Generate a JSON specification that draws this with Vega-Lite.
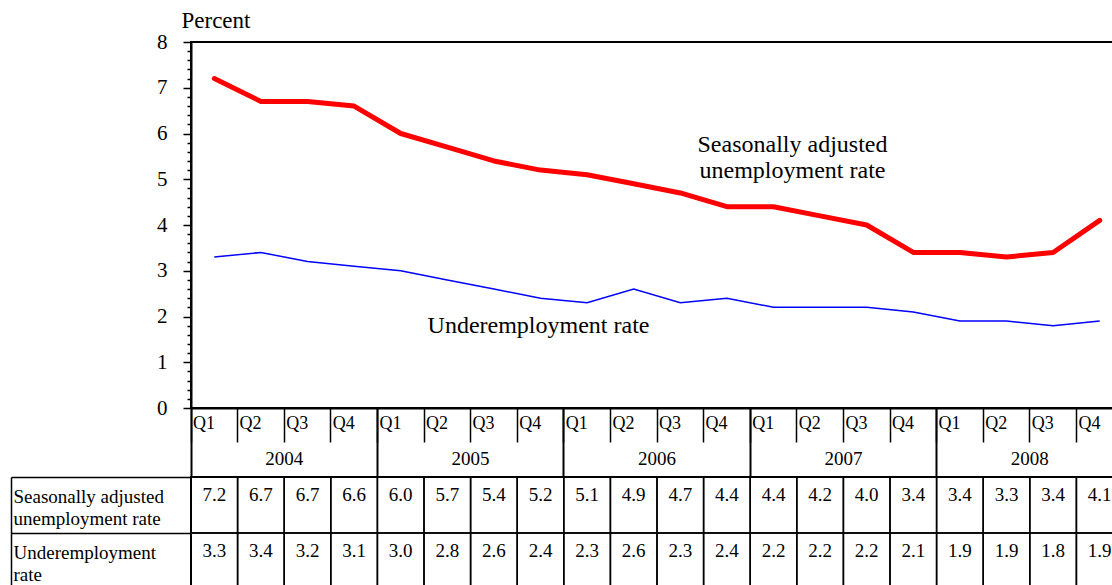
{
  "$schema": "https://vega.github.io/schema/vega-lite/v6.json",
  "background": "white",
  "padding": {"left": 9, "top": 8, "right": 0, "bottom": 0},
  "bounds": "flush",
  "spacing": 69,
  "datasets": {
    "q": [
      {"period": "2004Q1", "year": "2004", "unemp": 7.2, "under": 3.3},
      {"period": "2004Q2", "year": "2004", "unemp": 6.7, "under": 3.4},
      {"period": "2004Q3", "year": "2004", "unemp": 6.7, "under": 3.2},
      {"period": "2004Q4", "year": "2004", "unemp": 6.6, "under": 3.1},
      {"period": "2005Q1", "year": "2005", "unemp": 6.0, "under": 3.0},
      {"period": "2005Q2", "year": "2005", "unemp": 5.7, "under": 2.8},
      {"period": "2005Q3", "year": "2005", "unemp": 5.4, "under": 2.6},
      {"period": "2005Q4", "year": "2005", "unemp": 5.2, "under": 2.4},
      {"period": "2006Q1", "year": "2006", "unemp": 5.1, "under": 2.3},
      {"period": "2006Q2", "year": "2006", "unemp": 4.9, "under": 2.6},
      {"period": "2006Q3", "year": "2006", "unemp": 4.7, "under": 2.3},
      {"period": "2006Q4", "year": "2006", "unemp": 4.4, "under": 2.4},
      {"period": "2007Q1", "year": "2007", "unemp": 4.4, "under": 2.2},
      {"period": "2007Q2", "year": "2007", "unemp": 4.2, "under": 2.2},
      {"period": "2007Q3", "year": "2007", "unemp": 4.0, "under": 2.2},
      {"period": "2007Q4", "year": "2007", "unemp": 3.4, "under": 2.1},
      {"period": "2008Q1", "year": "2008", "unemp": 3.4, "under": 1.9},
      {"period": "2008Q2", "year": "2008", "unemp": 3.3, "under": 1.9},
      {"period": "2008Q3", "year": "2008", "unemp": 3.4, "under": 1.8},
      {"period": "2008Q4", "year": "2008", "unemp": 4.1, "under": 1.9}
    ]
  },
  "vconcat": [
    {
      "width": 932,
      "height": 366,
      "data": {"name": "q"},
      "layer": [
        {
          "layer": [
            {
              "mark": {"type": "line", "color": "#FF0000", "strokeWidth": 5, "strokeJoin": "round", "strokeCap": "round"},
              "encoding": {
                "x": {
                  "field": "period", "type": "nominal",
                  "scale": {"type": "band", "paddingInner": 0, "paddingOuter": 0},
                  "axis": {
                    "title": null, "orient": "bottom", "grid": false,
                    "domain": true, "domainColor": "black", "domainWidth": 2,
                    "ticks": true, "bandPosition": 0, "tickColor": "black",
                    "tickSize": 34, "tickWidth": 1.5,
                    "labelExpr": "slice(datum.label, 4)",
                    "labelAngle": 0, "labelAlign": "left", "labelBaseline": "alphabetic",
                    "labelPadding": -14, "labelOffset": -21.3, "labelOverlap": false, "labelBound": false, "labelFlush": false,
                    "labelFont": "Liberation Serif", "labelFontSize": 18, "labelColor": "black"
                  }
                },
                "y": {
                  "field": "unemp", "type": "quantitative",
                  "scale": {"domain": [0, 8], "nice": false, "zero": true},
                  "axis": {
                    "title": "Percent", "titleAngle": 0, "titleAlign": "left", "titleBaseline": "alphabetic",
                    "titleX": -10, "titleY": -15, "titleFont": "Liberation Serif", "titleFontSize": 23,
                    "titleFontWeight": "normal", "titleColor": "black",
                    "orient": "left", "grid": false, "domainColor": "black", "domainWidth": 2,
                    "values": [0, 1, 2, 3, 4, 5, 6, 7, 8],
                    "tickSize": 8, "tickColor": "black", "tickWidth": 1.5,
                    "labelOverlap": false, "labelFlush": false, "labelBound": false,
                    "labelFont": "Liberation Serif", "labelFontSize": 21, "labelColor": "black",
                    "labelPadding": 16, "labelBaseline": "middle"
                  }
                }
              }
            },
            {
              "mark": {"type": "line", "color": "#0000FF", "strokeWidth": 1.5},
              "encoding": {
                "x": {"field": "period", "type": "nominal"},
                "y": {
                  "field": "under", "type": "quantitative",
                  "axis": {
                    "title": null, "orient": "left", "grid": false, "domain": false, "labels": false,
                    "values": [0.2, 0.4, 0.6, 0.8, 1.2, 1.4, 1.6, 1.8, 2.2, 2.4, 2.6, 2.8, 3.2, 3.4, 3.6, 3.8, 4.2, 4.4, 4.6, 4.8, 5.2, 5.4, 5.6, 5.8, 6.2, 6.4, 6.6, 6.8, 7.2, 7.4, 7.6, 7.8],
                    "tickSize": 4, "tickColor": "black", "tickWidth": 1.5
                  }
                }
              }
            },
            {
              "data": {"values": [{}]},
              "mark": {"type": "text", "text": ["Seasonally adjusted", "unemployment rate"], "font": "Liberation Serif", "fontSize": 24, "lineHeight": 26, "align": "center", "baseline": "alphabetic", "color": "black", "dx": 19},
              "encoding": {
                "x": {"datum": "2007Q1", "type": "nominal"},
                "y": {"datum": 5.6, "type": "quantitative", "axis": null}
              }
            },
            {
              "data": {"values": [{}]},
              "mark": {"type": "text", "text": "Underemployment rate", "font": "Liberation Serif", "fontSize": 24, "align": "center", "baseline": "alphabetic", "color": "black", "dx": -2},
              "encoding": {
                "x": {"datum": "2005Q4", "type": "nominal"},
                "y": {"datum": 1.64, "type": "quantitative", "axis": null}
              }
            }
          ],
          "resolve": {"axis": {"y": "independent"}}
        },
        {
          "mark": {"type": "text", "text": ""},
          "encoding": {
            "x": {
              "field": "year", "type": "ordinal",
              "scale": {"type": "band", "paddingInner": 0, "paddingOuter": 0},
              "axis": {
                "title": null, "orient": "bottom", "domain": false, "grid": false,
                "ticks": true, "bandPosition": 0, "tickSize": 69, "tickWidth": 2, "tickColor": "black",
                "labelAngle": 0, "labelAlign": "center", "labelBaseline": "alphabetic", "labelPadding": -13,
                "labelOverlap": false, "labelFlush": false,
                "labelFont": "Liberation Serif", "labelFontSize": 19, "labelColor": "black"
              }
            }
          }
        }
      ],
      "resolve": {"scale": {"x": "independent"}, "axis": {"x": "independent"}}
    },
    {
      "width": 932,
      "height": 112,
      "data": {"name": "q"},
      "transform": [{"fold": ["unemp", "under"], "as": ["series", "rate"]}],
      "encoding": {
        "x": {
          "field": "period", "type": "nominal",
          "scale": {"type": "band", "paddingInner": 0, "paddingOuter": 0},
          "axis": null
        },
        "y": {
          "field": "series", "type": "nominal", "sort": ["unemp", "under"],
          "scale": {"type": "band", "paddingInner": 0, "paddingOuter": 0},
          "axis": {
            "title": null, "offset": 180, "grid": false,
            "domain": true, "domainColor": "black", "domainWidth": 1.5,
            "ticks": true, "bandPosition": 0, "tickSize": -180, "tickColor": "black", "tickWidth": 1.5,
            "labelExpr": "datum.value === 'unemp' ? ['Seasonally adjusted', 'unemployment rate'] : ['Underemployment', 'rate']",
            "labelAlign": "left", "labelBaseline": "alphabetic", "labelPadding": 178, "labelOffset": -2,
            "labelLineHeight": 22, "labelOverlap": false, "labelBound": false, "labelFlush": false, "labelLimit": 0,
            "labelFont": "Liberation Serif", "labelFontSize": 19, "labelColor": "black"
          }
        }
      },
      "layer": [
        {
          "mark": {"type": "rect", "fillOpacity": 0, "stroke": "black", "strokeWidth": 1.5}
        },
        {
          "mark": {"type": "text", "font": "Liberation Serif", "fontSize": 19, "color": "black", "align": "center", "baseline": "alphabetic", "dy": -4},
          "encoding": {
            "text": {"field": "rate", "type": "quantitative", "format": ".1f"}
          }
        }
      ]
    }
  ],
  "config": {
    "view": {"stroke": "black", "strokeWidth": 2},
    "font": "Liberation Serif",
    "axis": {"labelFont": "Liberation Serif", "titleFont": "Liberation Serif"}
  }
}
